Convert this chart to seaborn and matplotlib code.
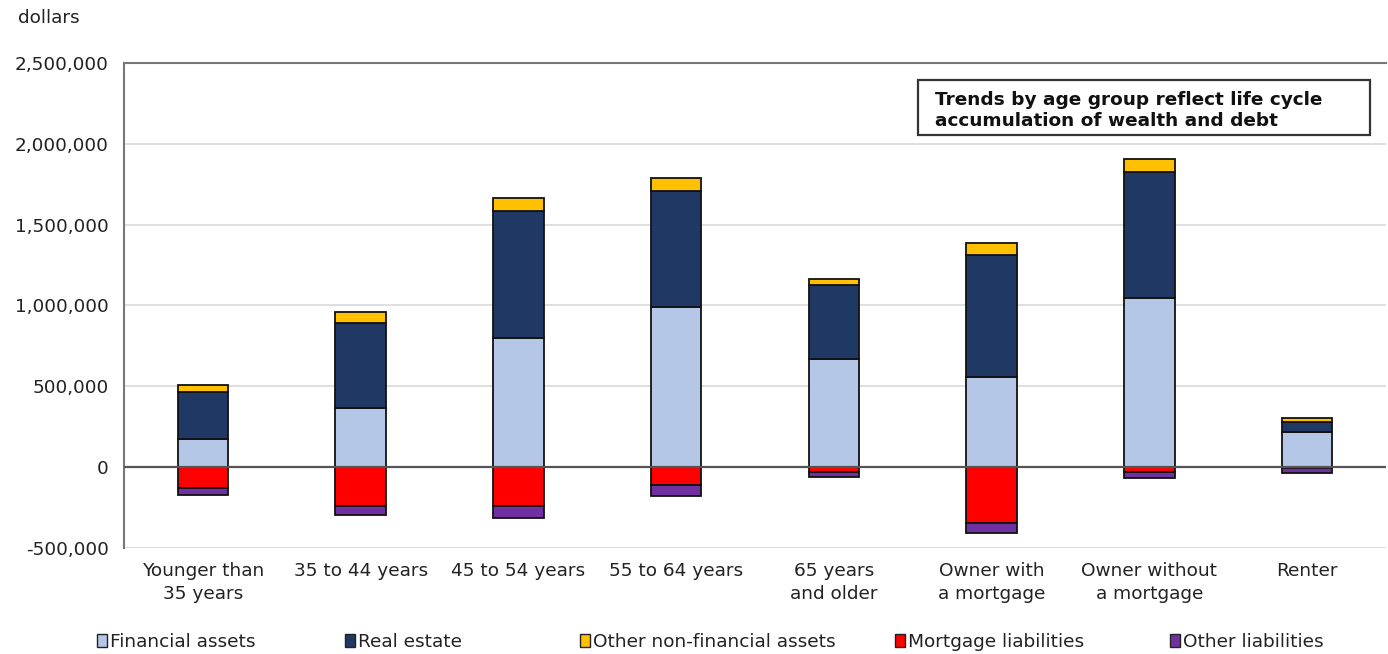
import matplotlib
matplotlib.use("Agg")
import matplotlib.pyplot as plt
from matplotlib.patches import Patch, Rectangle
from matplotlib.ticker import FuncFormatter
import seaborn as sns
import numpy as np

categories = ["Younger than\n35 years", "35 to 44 years", "45 to 54 years",
              "55 to 64 years", "65 years\nand older", "Owner with\na mortgage",
              "Owner without\na mortgage", "Renter"]

financial_assets = [175000, 367000, 798000, 990000, 670000, 557000, 1046000, 216000]
real_estate = [293000, 522000, 785000, 719000, 455000, 758000, 781000, 66000]
other_nonfinancial = [39000, 68000, 85000, 77000, 41000, 74000, 78000, 23000]
mortgage_liabilities = [-129000, -239000, -239000, -108000, -32000, -348000, -30000, -3000]
other_liabilities = [-46000, -55000, -76000, -69000, -27000, -62000, -35000, -35000]

series_names = ["Financial assets", "Real estate", "Other non-financial assets",
                "Mortgage liabilities", "Other liabilities"]
colors = ["#B4C7E7", "#1F3864", "#FFC000", "#FF0000", "#7030A0"]

sns.set_theme(style="white")
plt.rcParams["font.family"] = ["DejaVu Sans"]

W, H = 1388, 654
FS = 13.3
fig = plt.figure(figsize=(W / 100, H / 100), dpi=100)
ax = fig.add_axes([124 / W, 1 - 548 / H, (1386 - 124) / W, (548 - 63) / H])

fa = np.array(financial_assets)
re_ = np.array(real_estate)
onf = np.array(other_nonfinancial)
ml = np.array(mortgage_liabilities)
ol = np.array(other_liabilities)

stack = [
    (fa, np.zeros_like(fa)),
    (re_, fa),
    (onf, fa + re_),
    (ml, np.zeros_like(ml)),
    (ol, ml),
]

for (vals, base), col in zip(stack, colors):
    sns.barplot(x=categories, y=vals, bottom=base, color=col, saturation=1,
                width=0.32, edgecolor="#111111", linewidth=1.3, ax=ax, zorder=3)

ax.set_ylim(-500000, 2500000)
ax.set_xlim(-0.5, len(categories) - 0.5)
ax.set_yticks(np.arange(-500000, 2500001, 500000))
ax.yaxis.set_major_formatter(FuncFormatter(lambda v, p: f"{int(v):,}"))
ax.yaxis.grid(True, color="#D9D9D9", linewidth=1.2, zorder=0)
ax.axhline(0, color="#555555", linewidth=1.6, zorder=4)
ax.tick_params(axis="y", labelsize=FS, length=0, pad=11, colors="#222222")
ax.tick_params(axis="x", labelsize=FS, length=0, pad=10, colors="#222222")
for lbl in ax.get_xticklabels():
    lbl.set_linespacing(1.35)
ax.set_xlabel("")
ax.set_ylabel("")
for side in ["top", "left"]:
    ax.spines[side].set_color("#777777")
    ax.spines[side].set_linewidth(1.5)
for side in ["right", "bottom"]:
    ax.spines[side].set_visible(False)
ax.set_axisbelow(True)

fig.text(18 / W, 1 - 18 / H, "dollars", fontsize=FS, color="#222222",
         va="center", ha="left")

# note box in the upper right of the plot area
fig.add_artist(Rectangle((918 / W, 1 - 135 / H), (1370 - 918) / W, (135 - 80) / H,
                         transform=fig.transFigure, facecolor="white",
                         edgecolor="#333333", linewidth=1.6, zorder=6))
fig.text(935 / W, 1 - 100 / H, "Trends by age group reflect life cycle",
         fontsize=FS, fontweight="bold", color="#111111", va="center", ha="left", zorder=7)
fig.text(935 / W, 1 - 121 / H, "accumulation of wealth and debt",
         fontsize=FS, fontweight="bold", color="#111111", va="center", ha="left", zorder=7)

legend_x = [97, 345, 580, 895, 1170]
for name, col, lx in zip(series_names, colors, legend_x):
    fig.legend([Patch(facecolor=col, edgecolor="#222222", linewidth=1.0)], [name],
               loc="center left", bbox_to_anchor=(lx / W, 1 - 642 / H),
               frameon=False, fontsize=FS, handlelength=0.55, handleheight=0.7,
               handletextpad=0.15, borderpad=0, borderaxespad=0, labelcolor="#222222")

fig.savefig("out.png", dpi=100, facecolor="white")
